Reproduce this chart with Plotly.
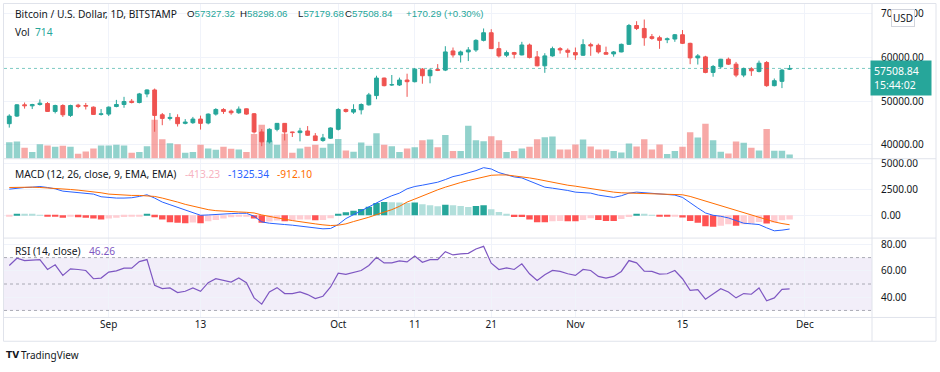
import plotly.graph_objects as go
import pandas as pd

# ---------------- data ----------------
start_date = "2021-08-19"
dates = pd.date_range(start_date, periods=103, freq="D")

opens = [44848, 46591, 49167, 48939, 49242, 49470, 47652, 49015, 46742, 49091,
         49015, 48636, 46970, 47045, 48788, 49242, 50000, 49697, 51667, 52576,
         46894, 46061, 46288, 44924, 45076, 45909, 45000, 47045, 48106, 47727,
         47348, 48258, 47121, 42955, 40682, 43561, 44924, 42955, 42803, 43182,
         42045, 40985, 41515, 43561, 48106, 47500, 48030, 49167, 51288, 55303,
         53700, 53712, 54848, 54470, 57348, 55833, 57270, 57121, 61515, 60606,
         61288, 61742, 63939, 65682, 62045, 60530, 61136, 60606, 62879, 60152,
         58106, 60379, 62045, 61667, 61136, 60530, 62955, 62803, 61136, 60833,
         61288, 63030, 67348, 66667, 64773, 64545, 64091, 64242, 65227, 63258,
         59924, 60152, 56591, 57879, 59621, 58485, 55985, 57424, 56818, 58864,
         53561, 54545, 57327.32]
highs = [47000, 49300, 49700, 49400, 50400, 49800, 49200, 49300, 49200, 49400,
         49600, 48800, 48200, 48800, 50300, 51000, 50500, 51900, 52700, 52900,
         47300, 47300, 47000, 45900, 46400, 46700, 47200, 48400, 48400, 48100,
         48800, 48300, 47300, 43600, 43800, 44900, 45000, 43000, 43900, 44300,
         42700, 42500, 44000, 48400, 48300, 49300, 49500, 51900, 55833, 55400,
         56000, 55400, 56300, 57600, 57600, 57500, 58500, 62600, 62300, 61600,
         62400, 64200, 66667, 66500, 63600, 61600, 61300, 63600, 63200, 61500,
         61000, 62500, 62400, 62100, 62300, 64200, 63400, 63200, 62500, 61500,
         63200, 67700, 68333, 68712, 65400, 65000, 64600, 65400, 66300, 63400,
         60800, 60400, 58300, 59700, 60000, 59000, 57700, 57800, 59300, 59200,
         55200, 57400, 58298.06]
lows = [43950, 46400, 48300, 48200, 49000, 47600, 47200, 46400, 46400, 48400,
        48100, 46900, 46700, 46600, 48600, 48500, 49500, 49500, 50900, 43000,
        44500, 45600, 44200, 44700, 44800, 43500, 44700, 46700, 47100, 46900,
        47100, 46900, 42600, 39700, 40300, 43100, 41000, 41800, 40800, 42100,
        40900, 40700, 41400, 43300, 47400, 47100, 46970, 49000, 50455, 53400,
        53500, 53500, 51000, 54300, 54000, 54100, 56900, 56900, 60000, 58864,
        59200, 61300, 63700, 62000, 60000, 60100, 59800, 60500, 59800, 58000,
        56500, 60200, 60900, 60000, 59470, 60400, 60400, 60900, 60800, 60200,
        61200, 62900, 66300, 62700, 64100, 62000, 63300, 63600, 63100, 58485,
        58400, 56400, 55600, 57500, 58300, 55500, 55500, 55800, 56600, 53300,
        53400, 53000, 57179.68]
closes = [46591, 49167, 48939, 49242, 49545, 47652, 49015, 46894, 49015, 48788,
          48864, 46970, 47121, 48636, 49242, 49924, 49697, 51667, 52576, 46742,
          46061, 46288, 44848, 45227, 45909, 44924, 47045, 48106, 47652, 47348,
          48182, 47045, 42955, 40682, 43561, 44924, 42955, 42803, 43182, 42197,
          40985, 41591, 43864, 48106, 47652, 48106, 49242, 51439, 55303, 53561,
          53800, 54848, 54470, 57348, 55833, 57121, 57050, 61288, 60606, 61288,
          61742, 63939, 65682, 62045, 60379, 61136, 60758, 62879, 60000, 58106,
          60379, 62045, 61742, 61212, 60606, 62955, 62652, 61288, 60758, 61288,
          63030, 67348, 66667, 64545, 64394, 63939, 64318, 65227, 63258, 59924,
          60379, 56591, 57955, 59621, 58485, 55985, 57500, 56970, 58712, 53561,
          54697, 57121, 57508.84]
volumes = [2772, 2872, 1826, 1112, 2440, 2208, 1992, 2158, 1992, 830,
           1212, 1710, 2208, 2208, 2324, 2208, 996, 1112, 2108, 6524,
           3270, 2606, 2440, 996, 1112, 2324, 1710, 1494, 1992, 1660,
           1544, 1112, 4150, 5694, 3038, 2324, 4200, 996, 1710, 1992,
           2324, 1826, 2490, 3320, 1378, 1162, 2706, 2158, 4266, 2324,
           2108, 1112, 1710, 1942, 3104, 3204, 1942, 3984, 1278, 1278,
           5528, 3104, 2938, 3768, 3104, 1112, 1278, 1710, 1992, 3270,
           3602, 3702, 1544, 1544, 2374, 3204, 2042, 1544, 1544, 1278,
           1046, 2540, 2042, 3270, 1544, 2374, 780, 1278, 1992, 4432,
           3536, 5860, 3104, 1162, 880, 2872, 2656, 1826, 1378, 4980,
           1328, 1328, 714]
macd = [2512, 2608, 2672, 2704, 2767, 2672, 2545, 2322, 2258, 2226,
        2163, 2036, 1781, 1686, 1654, 1654, 1686, 1813, 1972, 1654,
        1272, 1018, 763, 477, 223, 0, 32, 95, 127, 159,
        191, 191, -95, -636, -763, -795, -891, -954, -1050, -1113,
        -1209, -1304, -1272, -891, -318, 64, 445, 795, 1241, 1559,
        1877, 2131, 2545, 2767, 2894, 3022, 3181, 3435, 3721, 3880,
        4071, 4294, 4580, 4453, 4103, 3880, 3689, 3594, 3308, 2990,
        2704, 2608, 2512, 2385, 2226, 2194, 2131, 1940, 1813, 1718,
        1877, 2131, 2226, 2163, 2067, 2004, 1972, 1940, 1718, 1177,
        700, 223, 0, -95, -254, -509, -763, -827, -891, -1209,
        -1495, -1431, -1325.34]
signal = [2672, 2704, 2704, 2704, 2672, 2640, 2577, 2513, 2481, 2417,
          2354, 2290, 2163, 2036, 1972, 1940, 1909, 1909, 1877, 1813,
          1654, 1495, 1272, 1050, 859, 668, 541, 445, 382, 350,
          318, 286, 223, 32, -127, -254, -382, -509, -636, -731,
          -827, -922, -986, -954, -827, -604, -413, -191, 64, 286,
          541, 859, 1272, 1559, 1877, 2163, 2449, 2704, 2958, 3149,
          3340, 3531, 3721, 3848, 3880, 3880, 3785, 3721, 3594, 3467,
          3308, 3149, 3022, 2894, 2799, 2672, 2577, 2481, 2322, 2226,
          2163, 2131, 2131, 2099, 2067, 2067, 2036, 2004, 1972, 1813,
          1591, 1336, 1113, 891, 668, 445, 254, 32, -191, -445,
          -636, -795, -912.10]
hist = [-100, 60, 60, 55, 50, -80, -100, -250, -130, -190,
        -250, -320, -400, -320, -250, -160, -100, -60, 60, -190,
        -400, -670, -730, -760, -700, -760, -570, -445, -320, -190,
        -130, -60, -320, -730, -600, -510, -570, -510, -410, -410,
        -480, -445, -290, 130, 290, 445, 600, 830, 1180, 1270,
        1260, 1240, 1190, 1220, 1050, 960, 860, 1020, 960, 890,
        800, 890, 960, 570, 320, 100, -160, -170, -410, -670,
        -680, -570, -540, -570, -580, -445, -290, -445, -540, -550,
        -350, -160, 130, 60, 30, -130, -140, -60, -220, -540,
        -730, -1050, -1110, -1020, -860, -1020, -860, -800, -640, -800,
        -700, -480, -413.23]
rsi = [64, 69.5, 67.75, 68.25, 68.5, 61, 64.5, 56.5, 61.5, 61,
       60.25, 54, 54.5, 59, 60, 62, 62, 67, 68.5, 49,
       46.5, 47, 43.5, 44.5, 47, 44.5, 51, 54, 52.75, 51.5,
       54.5, 51, 39.5, 34.75, 44, 47.25, 42.75, 42.75, 44, 42,
       39, 40.75, 47.75, 58.25, 57.25, 58.5, 60.25, 64, 70.25, 66,
       66, 67.5, 66.75, 71.25, 66.5, 68.5, 68.5, 74.5, 72, 72.75,
       73.25, 76.5, 78.5, 65.75, 61, 62.25, 61, 65.25, 57.75, 52.75,
       57, 60.25, 59.5, 57.75, 56.5, 61, 60.25, 55.75, 54.5, 55.75,
       59.5, 67.75, 66, 59.75, 59.5, 57.5, 57.75, 60.25, 54, 45.25,
       45.75, 38.5, 42.75, 46.5, 44, 39.5, 42.75, 42.25, 47, 37.25,
       39.5, 46, 46.26]
tick_dates = ["2021-09-01", "2021-09-13", "2021-10-01", "2021-10-11",
              "2021-10-21", "2021-11-01", "2021-11-15", "2021-12-01"]
tick_labels = ["Sep", "13", "Oct", "11", "21", "Nov", "15", "Dec"]
price_ticks = [40000, 50000, 60000, 70000]
macd_ticks = [0, 2500, 5000]
rsi_ticks = [40, 60, 80]
countdown = "15:44:02"
change_text = "+170.29 (+0.30%)"

# ---------------- styling ----------------
W, H = 940, 372
UP, DN = "#26a69a", "#ef5350"
TXT = "#131722"
GRID = "#f0f3fa"
SEP = "#e0e3eb"
FONT = "Noto Sans"
NUMFONT = "Liberation Sans"
HSIZE = 10.2
DAY = 86400000


def px(x):
    return x / W


def py(y):
    return 1 - y / H


x_left, x_right = 4, 872
main_top, main_bot = 0, 157
macd_bot = 237
rsi_bot = 317

up = [c >= o for o, c in zip(opens, closes)]
candle_col = [UP if u else DN for u in up]
vol_col = ["rgba(38,166,154,0.5)" if u else "rgba(239,83,80,0.5)" for u in up]

hist_col = []
for i, h in enumerate(hist):
    prev = hist[i - 1] if i > 0 else None
    if h >= 0:
        hist_col.append("#26a69a" if (prev is not None and h > prev) else "#b2dfdb")
    else:
        hist_col.append("#ff5252" if (prev is not None and h < prev) else "#ffcdd2")

fig = go.Figure()

# volume (base axis of main pane, drawn behind candles)
fig.add_trace(go.Bar(x=dates, y=volumes, marker=dict(color=vol_col, line=dict(width=0)),
                     width=0.84 * DAY, xaxis="x", yaxis="y", hoverinfo="skip"))

# wicks
for want_up, col in [(True, UP), (False, DN)]:
    wx, wy = [], []
    for d, hi, lo, u in zip(dates, highs, lows, up):
        if u == want_up:
            wx += [d, d, None]
            wy += [lo, hi, None]
    fig.add_trace(go.Scatter(x=wx, y=wy, mode="lines", line=dict(color=col, width=1),
                             xaxis="x", yaxis="y4", hoverinfo="skip"))

# bodies
fig.add_trace(go.Bar(x=dates, y=[abs(c - o) for o, c in zip(opens, closes)],
                     base=[min(o, c) for o, c in zip(opens, closes)],
                     width=0.5 * DAY,
                     marker=dict(color=candle_col, line=dict(color=candle_col, width=1)),
                     xaxis="x", yaxis="y4", hoverinfo="skip"))

# MACD
fig.add_trace(go.Bar(x=dates, y=hist, marker=dict(color=hist_col, line=dict(width=0)),
                     width=0.84 * DAY, xaxis="x2", yaxis="y2", hoverinfo="skip"))
fig.add_trace(go.Scatter(x=dates, y=macd, mode="lines", line=dict(color="#2962ff", width=1),
                         xaxis="x2", yaxis="y2"))
fig.add_trace(go.Scatter(x=dates, y=signal, mode="lines", line=dict(color="#ff6d00", width=1),
                         xaxis="x2", yaxis="y2"))

# RSI
fig.add_trace(go.Scatter(x=dates, y=rsi, mode="lines", line=dict(color="#7e57c2", width=1.2),
                         xaxis="x3", yaxis="y3"))

x0 = pd.Timestamp(start_date) - pd.Timedelta(hours=0.69 * 24)
x1 = pd.Timestamp(start_date) + pd.Timedelta(hours=112.77 * 24)
xdom = [px(x_left), px(x_right)]
dom_main = [py(main_bot), py(main_top)]
dom_macd = [py(macd_bot), py(main_bot)]
dom_rsi = [py(rsi_bot), py(macd_bot)]

tick_font = dict(family=FONT, size=10, color=TXT)
common_x = dict(domain=xdom, range=[x0, x1], type="date", tickmode="array",
                tickvals=tick_dates, ticktext=tick_labels, showgrid=True,
                gridcolor=GRID, gridwidth=1, zeroline=False, showline=False,
                ticks="", fixedrange=True)
common_y = dict(side="right", showgrid=True, gridcolor=GRID, zeroline=False,
                showline=False, ticks="", tickfont=tick_font, ticklabelstandoff=8,
                fixedrange=True)

fig.update_layout(
    width=W, height=H, margin=dict(l=0, r=0, t=0, b=0),
    paper_bgcolor="white", plot_bgcolor="white", showlegend=False,
    barmode="overlay",
    xaxis=dict(common_x, anchor="y", showticklabels=False),
    xaxis2=dict(common_x, anchor="y2", matches="x", showticklabels=False),
    xaxis3=dict(common_x, anchor="y3", matches="x", showticklabels=True,
                tickfont=tick_font),
    yaxis=dict(domain=dom_main, range=[0, 157 * 166], visible=False, fixedrange=True),
    yaxis4=dict(common_y, overlaying="y", anchor="x", range=[36818, 72500],
                tickvals=price_ticks, tickformat=".2f"),
    yaxis2=dict(common_y, domain=dom_macd, anchor="x2", range=[-2195, 5439],
                tickvals=macd_ticks, tickformat=".2f"),
    yaxis3=dict(common_y, domain=dom_rsi, anchor="x3", range=[24.7, 84.75],
                tickvals=rsi_ticks, tickformat=".2f"),
)

shapes = []
# RSI band and levels
shapes.append(dict(type="rect", xref="x3 domain", yref="y3", x0=0, x1=1, y0=30, y1=70,
                   fillcolor="rgba(126,87,194,0.1)", line=dict(width=0), layer="below"))
for lvl in (70, 50, 30):
    shapes.append(dict(type="line", xref="x3 domain", yref="y3", x0=0, x1=1, y0=lvl, y1=lvl,
                       line=dict(color="rgba(120,123,134,0.6)", width=1, dash="3px,3px")))
# last price dotted line
shapes.append(dict(type="line", xref="x domain", yref="y4", x0=0, x1=1,
                   y0=closes[-1], y1=closes[-1],
                   line=dict(color="rgba(38,166,154,0.6)", width=1, dash="dot")))
# frame & separators
shapes.append(dict(type="rect", xref="paper", yref="paper", x0=px(3.5), x1=px(936),
                   y0=py(341), y1=py(0.5), line=dict(color=SEP, width=1)))
for yy in (main_bot, macd_bot, rsi_bot):
    shapes.append(dict(type="line", xref="paper", yref="paper", x0=px(3.5), x1=px(936),
                       y0=py(yy), y1=py(yy), line=dict(color=SEP, width=1)))
shapes.append(dict(type="line", xref="paper", yref="paper", x0=px(x_right), x1=px(x_right),
                   y0=py(341), y1=py(0.5), line=dict(color=SEP, width=1)))
fig.update_layout(shapes=shapes)

ann = []


def txt(x, y, s, color=TXT, size=HSIZE, family=FONT):
    ann.append(dict(xref="paper", yref="paper", x=px(x), y=py(y), xanchor="left",
                    yanchor="middle", text=s, showarrow=False,
                    font=dict(family=family, size=size, color=color)))


txt(13, 11, "Bitcoin / U.S. Dollar, 1D, BITSTAMP")
labels = [("O", opens[-1], 185), ("H", highs[-1], 238), ("L", lows[-1], 296), ("C", closes[-1], 343)]
for lab, val, xx in labels:
    txt(xx, 11, f"{lab}<span style='color:{UP}'>{val:.2f}</span>", size=9.7, family=NUMFONT)
txt(404, 11, change_text, color=UP, size=9.7, family=NUMFONT)
txt(13, 29, f"Vol  <span style='color:{UP}'>{volumes[-1]}</span>")

txt(13, 172, "MACD (12, 26, close, 9, EMA, EMA)")
txt(183, 172, f"{hist[-1]:.2f}", color="#f7b3bf")
txt(226, 172, f"{macd[-1]:.2f}", color="#2962ff")
txt(275, 172, f"{signal[-1]:.2f}", color="#ff6d00")

txt(13, 250, "RSI (14, close)")
txt(87, 250, f"{rsi[-1]:.2f}", color="#7e57c2")

# price label on axis
ann.append(dict(xref="paper", yref="y4", x=px(900.5), y=closes[-1], xanchor="center",
                yanchor="top", yshift=8, showarrow=False,
                text=f"{closes[-1]:.2f}<br>{countdown}", align="left",
                bgcolor=UP, borderpad=3, width=54,
                font=dict(family=FONT, size=10.5, color="white")))
# USD badge
ann.append(dict(xref="paper", yref="paper", x=px(903), y=py(15), xanchor="center",
                yanchor="middle", showarrow=False, text="USD", bgcolor="white",
                bordercolor="#d1d4dc", borderwidth=1, borderpad=1,
                font=dict(family=FONT, size=10, color=TXT)))
# TradingView logo
ann.append(dict(xref="paper", yref="paper", x=px(4), y=py(355), xanchor="left",
                yanchor="middle", showarrow=False, text="<b>TV</b>",
                font=dict(family="DejaVu Sans", size=9, color="#131722")))
ann.append(dict(xref="paper", yref="paper", x=px(19), y=py(355), xanchor="left",
                yanchor="middle", showarrow=False, text="TradingView",
                font=dict(family=FONT, size=10, color="#131722")))
fig.update_layout(annotations=ann)

fig.write_html("out.html", config={"displayModeBar": False},
               post_script="document.body.style.margin='0';document.body.style.overflow='hidden';")
